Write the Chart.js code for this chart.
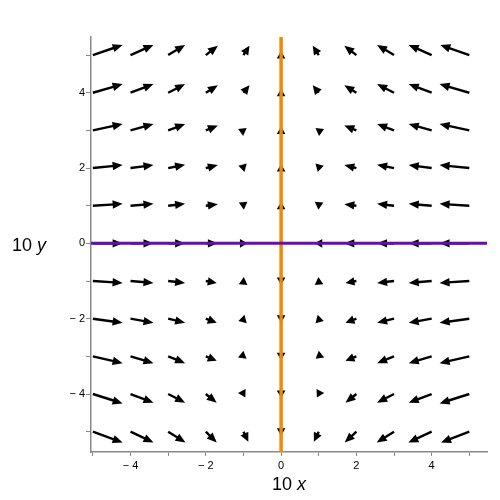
<!DOCTYPE html>
<html lang="en">
  <head>
    <meta charset="UTF-8" />
    <title>Direction field</title>
    <script src="https://cdn.jsdelivr.net/npm/chart.js"></script>
    <style>
      body { margin: 0; background: #fff; }
    </style>
  </head>
  <body>
    <canvas id="fieldChart" width="500" height="500"></canvas>

    <script>
      // grid points (arrow tails), rows from top to bottom
      const gridX = [-5, -4, -3, -2, -1, 0, 1, 2, 3, 4, 5];
      const gridY = [5, 4, 3, 2, 1, 0, -1, -2, -3, -4, -5];

      // horizontal component of each arrow
      const uRows = [
        [0.79, 0.61, 0.45, 0.32, 0.16, 0, -0.16, -0.32, -0.45, -0.61, -0.77],
        [0.79, 0.61, 0.45, 0.32, 0.16, 0, -0.16, -0.32, -0.45, -0.61, -0.79],
        [0.79, 0.61, 0.45, 0.32, 0.11, 0, -0.11, -0.32, -0.45, -0.61, -0.79],
        [0.79, 0.61, 0.45, 0.32, 0.03, 0, -0.03, -0.32, -0.45, -0.61, -0.79],
        [0.79, 0.61, 0.45, 0.32, 0.01, 0, -0.01, -0.32, -0.45, -0.61, -0.79],
        [0.79, 0.61, 0.45, 0.32, 0.16, 0, -0.16, -0.32, -0.45, -0.61, -0.79],
        [0.79, 0.61, 0.45, 0.29, 0.01, 0, -0.01, -0.29, -0.45, -0.61, -0.79],
        [0.79, 0.61, 0.45, 0.29, 0.03, 0, -0.03, -0.29, -0.45, -0.61, -0.79],
        [0.79, 0.61, 0.45, 0.29, 0.10, 0, -0.10, -0.29, -0.45, -0.61, -0.79],
        [0.79, 0.61, 0.45, 0.29, 0.11, 0, -0.11, -0.29, -0.45, -0.61, -0.79],
        [0.79, 0.61, 0.46, 0.29, 0.13, 0, -0.13, -0.31, -0.46, -0.62, -0.75],
      ];

      // vertical component of each arrow
      const vRows = [
        [0.27, 0.27, 0.27, 0.25, 0.25, 0.21, 0.25, 0.25, 0.27, 0.27, 0.27],
        [0.23, 0.23, 0.23, 0.20, 0.20, 0.19, 0.20, 0.20, 0.23, 0.23, 0.23],
        [0.17, 0.17, 0.17, 0.13, 0.08, 0.13, 0.08, 0.13, 0.17, 0.17, 0.17],
        [0.08, 0.08, 0.09, 0.08, -0.11, 0.08, -0.11, 0.08, 0.09, 0.08, 0.08],
        [0.05, 0.05, 0.05, 0.04, -0.11, 0.05, -0.11, 0.04, 0.05, 0.05, 0.05],
        [0, 0, 0, 0, 0, 0, 0, 0, 0, 0, 0],
        [-0.05, -0.05, -0.05, -0.05, 0.11, -0.05, 0.11, -0.05, -0.05, -0.05, -0.05],
        [-0.11, -0.11, -0.11, -0.11, 0.11, -0.08, 0.11, -0.11, -0.11, -0.11, -0.11],
        [-0.18, -0.18, -0.18, -0.12, -0.08, -0.13, -0.08, -0.12, -0.18, -0.18, -0.18],
        [-0.25, -0.23, -0.23, -0.23, -0.21, -0.19, -0.21, -0.23, -0.23, -0.23, -0.25],
        [-0.29, -0.29, -0.29, -0.29, -0.27, -0.21, -0.27, -0.29, -0.29, -0.29, -0.29],
      ];

      // the two straight solution curves
      const purpleLine = [{ x: -5.05, y: 0 }, { x: 5.47, y: 0 }];
      const orangeLine = [{ x: 0, y: -5.54 }, { x: 0, y: 5.48 }];

      const xTitle = ["10 ", "x"];
      const yTitle = ["10 ", "y"];

      function tickLabel(v) {
        if (v % 2 !== 0) return "";
        return v < 0 ? "\u2212 " + Math.abs(v) : String(v);
      }

      function drawArrow(ctx, x0, y0, x1, y1) {
        const dx = x1 - x0, dy = y1 - y0;
        const len = Math.hypot(dx, dy);
        if (len < 0.01) return;
        const ux = dx / len, uy = dy / len;
        let tipX = x1, tipY = y1, headLen = 10, half = 4.2;
        if (len < 9) {
          // very short vectors only show a head
          tipX = x0 + ux * 4;
          tipY = y0 + uy * 4;
          headLen = 7.5;
          half = 4.3;
        } else {
          if (len < 12) { headLen = 9; half = 4.3; }
          ctx.beginPath();
          ctx.moveTo(x0, y0);
          ctx.lineTo(x1 - ux * headLen * 0.8, y1 - uy * headLen * 0.8);
          ctx.stroke();
        }
        const bx = tipX - ux * headLen, by = tipY - uy * headLen;
        ctx.beginPath();
        ctx.moveTo(tipX, tipY);
        ctx.lineTo(bx - uy * half, by + ux * half);
        ctx.lineTo(bx + uy * half, by - ux * half);
        ctx.closePath();
        ctx.fill();
      }

      const fieldArrows = {
        id: "fieldArrows",
        beforeDatasetsDraw(chart) {
          const ctx = chart.ctx;
          const xs = chart.scales.x, ys = chart.scales.y;
          ctx.save();
          ctx.fillStyle = "#000";
          ctx.strokeStyle = "#000";
          ctx.lineWidth = 2.4;
          ctx.lineCap = "butt";
          gridY.forEach((yv, i) => {
            gridX.forEach((xv, j) => {
              const u = uRows[i][j], v = vRows[i][j];
              if (u === 0 && v === 0) return;
              drawArrow(
                ctx,
                xs.getPixelForValue(xv), ys.getPixelForValue(yv),
                xs.getPixelForValue(xv + u), ys.getPixelForValue(yv + v)
              );
            });
          });
          ctx.restore();
        },
      };

      function drawTitle(ctx, parts, x, y, align) {
        ctx.font = '18px "Liberation Sans", Arial, sans-serif';
        const w1 = ctx.measureText(parts[0]).width;
        ctx.font = 'italic 18px "Liberation Sans", Arial, sans-serif';
        const w2 = ctx.measureText(parts[1]).width;
        let left = align === "center" ? x - (w1 + w2) / 2 : x;
        ctx.textAlign = "left";
        ctx.textBaseline = "alphabetic";
        ctx.fillStyle = "#000";
        ctx.font = '18px "Liberation Sans", Arial, sans-serif';
        ctx.fillText(parts[0], left, y);
        ctx.font = 'italic 18px "Liberation Sans", Arial, sans-serif';
        ctx.fillText(parts[1], left + w1, y);
      }

      const axisTitles = {
        id: "axisTitles",
        afterDraw(chart) {
          const ctx = chart.ctx;
          const area = chart.chartArea;
          ctx.save();
          drawTitle(ctx, xTitle, (area.left + area.right) / 2, 490, "center");
          drawTitle(ctx, yTitle, 12, (area.top + area.bottom) / 2 + 6, "left");
          ctx.restore();
        },
      };

      const axisColor = "#888888";

      var ctx = document.getElementById("fieldChart").getContext("2d");
      let fieldChart = new Chart(ctx, {
        type: "scatter",
        data: {
          datasets: [
            {
              label: "y = 0",
              data: purpleLine,
              showLine: true,
              borderColor: "#6a0dad",
              borderWidth: 3,
              pointRadius: 0,
            },
            {
              label: "x = 0",
              data: orangeLine,
              showLine: true,
              borderColor: "#f08a00",
              borderWidth: 3.5,
              pointRadius: 0,
            },
          ],
        },
        plugins: [fieldArrows, axisTitles],
        options: {
          responsive: false,
          animation: false,
          layout: { padding: { left: 0, top: 37, right: 13, bottom: 0 } },
          plugins: {
            legend: { display: false },
            tooltip: { enabled: false },
          },
          scales: {
            x: {
              type: "linear",
              position: "bottom",
              min: -5.05,
              max: 5.47,
              afterFit: (scale) => { scale.height = 48; },
              border: { display: true, color: axisColor, width: 1.5 },
              grid: { drawOnChartArea: false, drawTicks: true, tickLength: 4, color: axisColor },
              ticks: {
                stepSize: 1,
                includeBounds: false,
                autoSkip: false,
                maxRotation: 0,
                padding: 3,
                color: "#000",
                font: { family: '"Liberation Sans", Arial, sans-serif', size: 11 },
                callback: tickLabel,
              },
            },
            y: {
              type: "linear",
              position: "left",
              min: -5.54,
              max: 5.48,
              afterFit: (scale) => { scale.width = 91; },
              border: { display: true, color: axisColor, width: 1.5 },
              grid: { drawOnChartArea: false, drawTicks: true, tickLength: 5, color: axisColor },
              ticks: {
                stepSize: 1,
                includeBounds: false,
                autoSkip: false,
                padding: 1,
                color: "#000",
                font: { family: '"Liberation Sans", Arial, sans-serif', size: 11 },
                callback: tickLabel,
              },
            },
          },
        },
      });
    </script>
  </body>
</html>
